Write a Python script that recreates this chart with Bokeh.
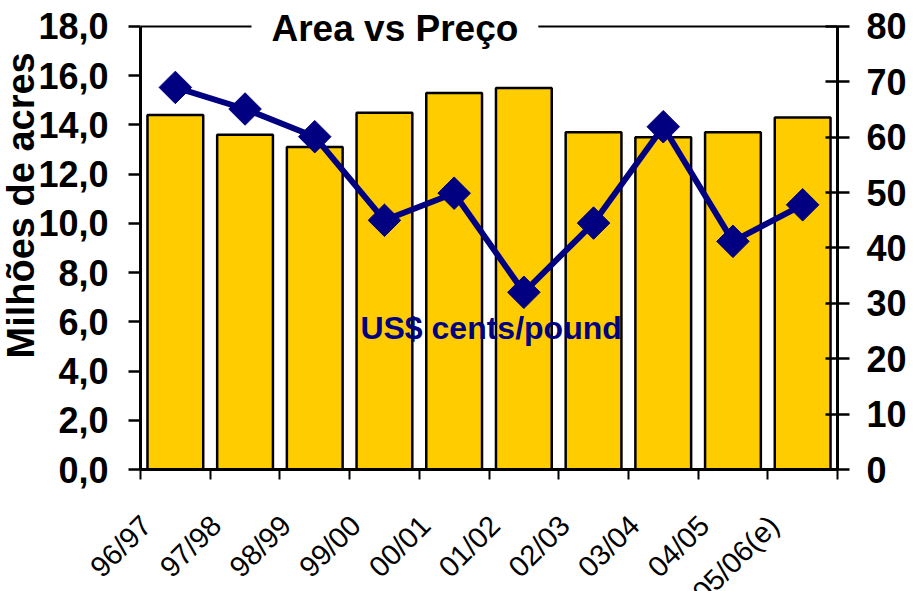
import math
from bokeh.plotting import figure
from bokeh.models import (Range1d, LinearAxis, FixedTicker, CustomJSTickFormatter,
                          Label, Title, ColumnDataSource)
from bokeh.embed import file_html
from bokeh.resources import INLINE

seasons = ["96/97", "97/98", "98/99", "99/00", "00/01", "01/02",
           "02/03", "03/04", "04/05", "05/06(e)"]
area = [14.4, 13.6, 13.1, 14.5, 15.3, 15.5, 13.7, 13.5, 13.7, 14.3]
price = [69.0, 65.1, 60.1, 45.0, 49.9, 32.0, 44.5, 61.9, 41.2, 47.8]
left_ticks = [0, 2, 4, 6, 8, 10, 12, 14, 16, 18]
right_ticks = [0, 10, 20, 30, 40, 50, 60, 70, 80]

FONT = "Liberation Sans"
n = len(seasons)
centers = [i + 0.5 for i in range(n)]
label_pos = [c - 0.415 for c in centers]
bounds = list(range(n + 1))

src = ColumnDataSource(dict(x=centers, area=area, price=price))

p = figure(width=909, height=640, output_backend="svg", toolbar_location=None,
           x_range=Range1d(0, n), y_range=Range1d(0, 19.056),
           min_border_left=140, min_border_right=71, min_border_top=0,
           min_border_bottom=171)
p.extra_y_ranges = {"price": Range1d(0, 84.695)}
p.xgrid.grid_line_color = None
p.ygrid.grid_line_color = None
p.outline_line_color = None
p.background_fill_color = "white"

p.vbar(x="x", top="area", width=0.8, bottom=0, source=src,
       fill_color="#FFCC00", line_color="black", line_width=2.5)
p.line(x="x", y="price", source=src, y_range_name="price",
       line_color="#000080", line_width=6)
p.scatter(x="x", y="price", source=src, y_range_name="price", marker="square",
          angle=math.pi / 4, size=23, fill_color="#000080", line_color="#000080")

# top border of the plot area
p.line(x=[0, n], y=[left_ticks[-1], left_ticks[-1]], line_color="black", line_width=2)

# bottom (category) axis
xa = p.xaxis[0]
xa.ticker = FixedTicker(ticks=label_pos, minor_ticks=bounds)
xa.formatter = CustomJSTickFormatter(args=dict(labels=seasons),
                                     code="return labels[Math.floor(tick + 0.5)];")
xa.major_tick_line_color = None
xa.major_tick_in = 0
xa.major_tick_out = 10
xa.minor_tick_line_color = "black"
xa.minor_tick_line_width = 2
xa.minor_tick_in = 0
xa.minor_tick_out = 10
xa.axis_line_width = 3
xa.major_label_orientation = math.pi / 4
xa.major_label_text_font = FONT
xa.major_label_text_font_size = "29px"
xa.major_label_text_color = "black"
xa.major_label_standoff = 41

# left axis
ya = p.yaxis[0]
ya.ticker = FixedTicker(ticks=left_ticks)
ya.bounds = (left_ticks[0], left_ticks[-1])
ya.formatter = CustomJSTickFormatter(code="return tick.toFixed(1).replace('.', ',');")
ya.major_tick_in = 0
ya.major_tick_out = 12
ya.major_tick_line_width = 2.5
ya.minor_tick_line_color = None
ya.axis_line_width = 3
ya.major_label_text_font = FONT
ya.major_label_text_font_style = "bold"
ya.major_label_text_font_size = "36px"
ya.major_label_text_color = "black"
ya.major_label_standoff = 20

# right axis
ra = LinearAxis(y_range_name="price", ticker=FixedTicker(ticks=right_ticks),
                bounds=(right_ticks[0], right_ticks[-1]))
ra.major_tick_in = 12
ra.major_tick_out = 12
ra.major_tick_line_width = 2.5
ra.minor_tick_line_color = None
ra.axis_line_width = 3
ra.major_label_text_font = FONT
ra.major_label_text_font_style = "bold"
ra.major_label_text_font_size = "36px"
ra.major_label_text_color = "black"
ra.major_label_standoff = 17
p.add_layout(ra, "right")

# y axis title
p.add_layout(Title(text="Milhões de acres", align="left", offset=111, standoff=-13,
                   text_font=FONT, text_font_style="bold",
                   text_font_size="38px", text_color="black"), "left")

# chart title with white box over the top border
p.add_layout(Label(x=3.65, y=17.9, text="Area vs Preço", text_align="center",
                   text_baseline="middle", text_font=FONT,
                   text_font_style="bold", text_font_size="37px",
                   text_color="black", background_fill_color="white",
                   padding=20))

# series label
p.add_layout(Label(x=5.03, y=25.5, y_range_name="price",
                   text="US$ cents/pound", text_align="center",
                   text_baseline="middle", text_font=FONT,
                   text_font_style="bold", text_font_size="32px",
                   text_color="#000080"))

open("out.html", "w").write(file_html(p, INLINE))
